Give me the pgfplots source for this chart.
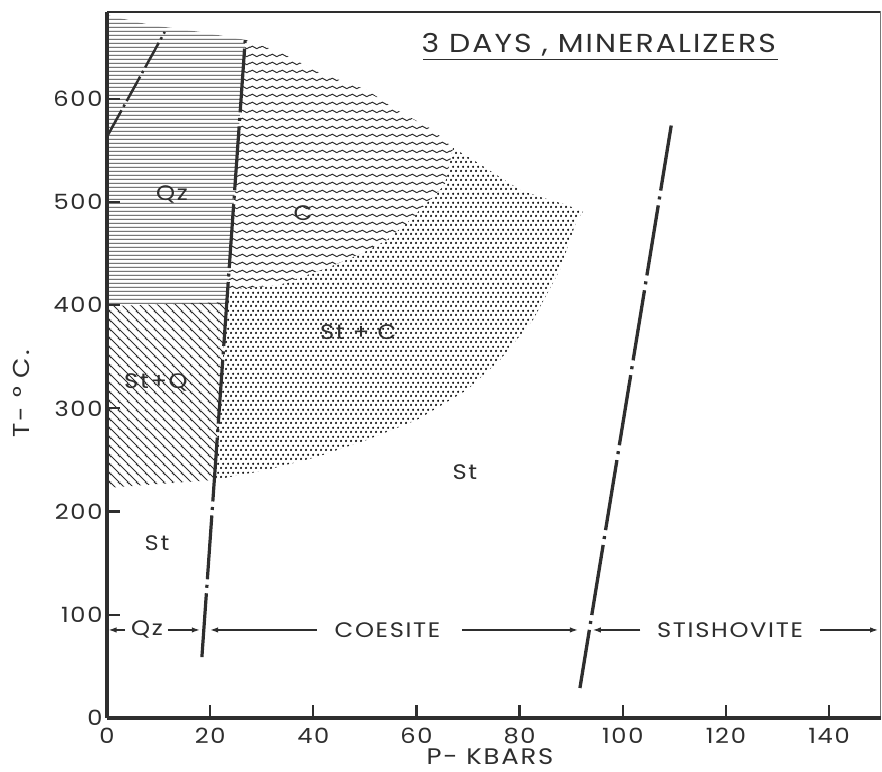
\documentclass[border=0pt]{standalone}
\usepackage{fontspec}
\setmainfont{Poppins}[FakeStretch=1.15, LetterSpace=8]
\usepackage{pgfplots}
\pgfplotsset{compat=1.18}
\usetikzlibrary{patterns,arrows.meta}

\pgfdeclarepatternformonly{hlinesx}{\pgfpointorigin}{\pgfpoint{10pt}{3.7pt}}{\pgfpoint{10pt}{3.7pt}}{%
  \pgfsetlinewidth{1.0pt}%
  \pgfpathmoveto{\pgfpoint{-1pt}{1.85pt}}%
  \pgfpathlineto{\pgfpoint{11pt}{1.85pt}}%
  \pgfusepath{stroke}}
\pgfdeclarepatternformonly{nwlinesx}{\pgfpointorigin}{\pgfpoint{8.5pt}{8.5pt}}{\pgfpoint{8.5pt}{8.5pt}}{%
  \pgfsetlinewidth{1.0pt}%
  \pgfpathmoveto{\pgfpoint{-2pt}{2pt}}\pgfpathlineto{\pgfpoint{2pt}{-2pt}}%
  \pgfpathmoveto{\pgfpoint{-2pt}{10.5pt}}\pgfpathlineto{\pgfpoint{10.5pt}{-2pt}}%
  \pgfpathmoveto{\pgfpoint{6.5pt}{10.5pt}}\pgfpathlineto{\pgfpoint{10.5pt}{6.5pt}}%
  \pgfusepath{stroke}}
\pgfdeclarepatternformonly{wavyx}{\pgfpointorigin}{\pgfpoint{10pt}{8pt}}{\pgfpoint{10pt}{8pt}}{%
  \pgfsetlinewidth{1.1pt}%
  \pgfpathmoveto{\pgfpoint{-2.5pt}{2.6pt}}%
  \pgfpathcosine{\pgfpoint{2.5pt}{1.4pt}}%
  \pgfpathsine{\pgfpoint{2.5pt}{1.4pt}}%
  \pgfpathcosine{\pgfpoint{2.5pt}{-1.4pt}}%
  \pgfpathsine{\pgfpoint{2.5pt}{-1.4pt}}%
  \pgfpathcosine{\pgfpoint{2.5pt}{1.4pt}}%
  \pgfpathsine{\pgfpoint{2.5pt}{1.4pt}}%
  \pgfusepath{stroke}}
\pgfdeclarepatternformonly{dotsx}{\pgfpointorigin}{\pgfpoint{5pt}{8.6pt}}{\pgfpoint{5pt}{8.6pt}}{%
  \pgfpathcircle{\pgfpoint{1.25pt}{2.15pt}}{1.3pt}%
  \pgfpathcircle{\pgfpoint{3.75pt}{6.45pt}}{1.3pt}%
  \pgfusepath{fill}}

\definecolor{ink}{gray}{0.18}

\begin{document}
\begin{tikzpicture}
\useasboundingbox (0,0) rectangle (882pt,771pt);
\begin{axis}[
  at={(107pt,53pt)}, anchor=south west,
  scale only axis, width=773.6pt, height=706pt,
  xmin=0, xmax=150, ymin=0, ymax=684,
  axis x line*=bottom, axis y line*=left,
  axis line style={line width=3.2pt, ink},
  axis on top,
  xtick={0,20,...,140}, ytick={0,100,...,600},
  tick align=inside, major tick length=13pt,
  every tick/.style={line width=2.2pt, ink},
  ticklabel style={font=\fontsize{21}{21}\selectfont, text=ink},
  xticklabel style={inner sep=1pt, yshift=-9pt},
  yticklabel style={xshift=-1pt},
  /pgf/number format/assume math mode=true,
  xlabel={P- KBARS}, ylabel={T- ° C.},
  xlabel style={at={(axis description cs:0.495,-0.055)}, anchor=center, inner sep=0.5pt, font=\fontsize{22.5}{22.5}\selectfont, text=ink},
  ylabel style={at={(axis description cs:-0.110,0.459)}, anchor=center, font=\fontsize{23}{23}\selectfont, text=ink},
]
% Qz region (horizontal lines)
\addplot[draw=none, pattern=hlinesx, pattern color=ink] coordinates {
 (0,401) (23.2,401) (26.8,657) (18,664.7) (8.3,671.5) (0,681)};
% St+Q region (diagonal lines)
\addplot[draw=none, pattern=nwlinesx, pattern color=ink] coordinates {
 (0,222.9) (20.8,230.6) (23.2,403) (0,399)};
% C region (wavy lines)
\addplot[draw=none, pattern=wavyx, pattern color=ink] coordinates {
 (23.4,414.7) (26.8,657) (33.5,645.3) (41.3,625) (50.4,608.5) (56.2,589) (63.2,569.8) (67.1,552.3)
 (65.5,516.5) (62.6,502) (58.8,482.6) (54.3,463.2) (49.6,450.6) (43.2,437) (33.5,419.6)};
% St+C region (dots)
\addplot[draw=none, pattern=dotsx, pattern color=black] coordinates {
 (20.8,230.6) (31,240.3) (40.7,252.9) (50.4,269.4) (60.1,288.8) (69.8,317.8) (76.2,346.9)
 (82.6,385.7) (87.8,434) (91.1,482.6) (92.3,490.3)
 (89.2,497) (84,504.8) (80.1,511.6) (76.2,524) (71,540.7) (67.1,552.3)
 (65.5,516.5) (62.6,502) (58.8,482.6) (54.3,463.2) (49.6,450.6) (43.2,437) (33.5,419.6) (23.4,414.7)};
% boundary lines
\addplot[ink, line width=3.2pt, dash pattern=on 64pt off 5.5pt on 3pt off 5.5pt] coordinates {(18.4,59) (26.8,657)};
\addplot[ink, line width=3.3pt, dash pattern=on 71pt off 6pt on 3pt off 6pt, dash phase=12pt] coordinates {(91.7,29) (109.4,574)};
\addplot[ink, line width=2.5pt, dash pattern=on 28pt off 4pt on 2.5pt off 4pt] coordinates {(0.2,565) (11.2,664.7)};
% arrows
\addplot[ink, line width=1.3pt, -{Latex[length=8pt,width=5.5pt]}] coordinates {(3.5,85.3) (0.3,85.3)};
\addplot[ink, line width=1.3pt, -{Latex[length=8pt,width=5.5pt]}] coordinates {(11.8,85.3) (18.0,85.3)};
\addplot[ink, line width=1.3pt, -{Latex[length=8pt,width=5.5pt]}] coordinates {(40.7,85.3) (20.0,85.3)};
\addplot[ink, line width=1.3pt, -{Latex[length=8pt,width=5.5pt]}] coordinates {(68.8,85.3) (91.3,85.3)};
\addplot[ink, line width=1.3pt, -{Latex[length=8pt,width=5.5pt]}] coordinates {(103.4,85.3) (94.2,85.3)};
\addplot[ink, line width=1.3pt, -{Latex[length=8pt,width=5.5pt]}] coordinates {(138.3,85.3) (149.5,85.3)};
% labels
\begin{scope}[every node/.style={text=ink, font=\fontsize{21}{21}\selectfont}]
\node at (axis cs:7.76,85.3) {Qz};
\node at (axis cs:54.4,85.3) {COESITE};
\node at (axis cs:120.8,85.3) {STISHOVITE};
\node at (axis cs:12.6,506.8) {Qz};
\node at (axis cs:38,489) {C};
\node at (axis cs:48.7,374) {St + C};
\node at (axis cs:9.5,324.6) {St+Q};
\node at (axis cs:9.7,169.6) {St};
\node at (axis cs:69.4,238.4) {St};
\end{scope}
\node[anchor=base west, text=ink, font=\fontsize{26}{26}\selectfont] at (axis cs:60.3,644.4) {3 DAYS , MINERALIZERS};
\draw[ink, line width=1.5pt] (axis cs:61.3,638) -- (axis cs:130.1,638);
\draw[ink, line width=1.8pt] (rel axis cs:0,1) -- (rel axis cs:1,1) -- (rel axis cs:1,0);
\end{axis}
\end{tikzpicture}
\end{document}
